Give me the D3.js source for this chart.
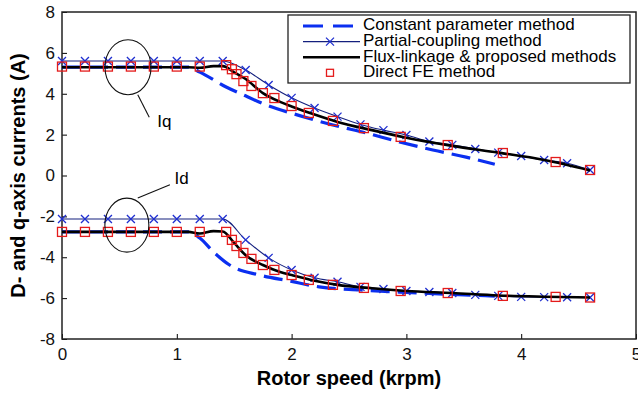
<!DOCTYPE html>
<html>
<head>
<meta charset="utf-8">
<script src="https://cdn.jsdelivr.net/npm/d3@7"></script>
<style>
  html, body { margin: 0; padding: 0; background: #fff; }
  svg { display: block; font-family: Arial, 'Liberation Sans', sans-serif; }
</style>
</head>
<body>
<div id="chart"></div>
<script>
// Axis ticks
const xTicks = [0, 1, 2, 3, 4, 5]
const yTicks = [-8, -6, -4, -2, 0, 2, 4, 6, 8]

// Partial-coupling method (crosses)
const crossX = [0, 0.2, 0.4, 0.6, 0.8, 1.0, 1.2, 1.4, 1.6, 1.8, 2.0, 2.2, 2.4, 2.6, 2.8, 3.0, 3.2, 3.4, 3.6, 3.8, 4.0, 4.2, 4.4, 4.6]
const iqCross = [5.6, 5.6, 5.6, 5.6, 5.6, 5.6, 5.6, 5.6, 5.16, 4.43, 3.8, 3.3, 2.88, 2.5, 2.22, 1.98, 1.66, 1.5, 1.3, 1.12, 0.95, 0.76, 0.6, 0.27]
const idCross = [-2.13, -2.13, -2.13, -2.13, -2.13, -2.13, -2.13, -2.13, -3.15, -4.03, -4.62, -5.0, -5.2, -5.45, -5.55, -5.65, -5.7, -5.75, -5.84, -5.89, -5.94, -5.95, -5.96, -5.97]

// Direct FE method (squares)
const squareX = [0, 0.2, 0.4, 0.6, 0.8, 1.0, 1.2, 1.43, 1.48, 1.52, 1.58, 1.65, 1.75, 1.85, 2.0, 2.15, 2.36, 2.63, 2.95, 3.36, 3.84, 4.3, 4.6]
const iqSquare = [5.33, 5.33, 5.33, 5.33, 5.33, 5.33, 5.33, 5.4, 5.2, 4.96, 4.62, 4.38, 4.03, 3.79, 3.4, 3.06, 2.67, 2.32, 1.89, 1.49, 1.1, 0.66, 0.27]
const idSquare = [-2.76, -2.76, -2.76, -2.76, -2.76, -2.76, -2.76, -2.76, -3.15, -3.45, -3.79, -4.08, -4.38, -4.62, -4.87, -5.11, -5.35, -5.5, -5.65, -5.75, -5.89, -5.94, -5.97]

// Flux-linkage & proposed methods (solid black)
const fluxX = [0, 1.1, 1.2, 1.32, 1.4, 1.5, 1.6, 1.75, 1.9, 2.0, 2.2, 2.4, 2.7, 3.0, 3.4, 3.8, 4.2, 4.6]
const iqFlux = [5.3, 5.3, 5.27, 5.35, 5.35, 5.05, 4.72, 4.03, 3.6, 3.38, 2.98, 2.62, 2.22, 1.85, 1.45, 1.12, 0.76, 0.25]
const idFlux = [-2.76, -2.76, -2.84, -2.72, -2.74, -3.3, -3.9, -4.38, -4.72, -4.87, -5.15, -5.35, -5.52, -5.65, -5.75, -5.87, -5.93, -5.97]

// Constant parameter method (dashed blue)
const iqConstX = [0, 1.1, 1.2, 1.43, 1.58, 1.78, 2.07, 2.36, 2.65, 2.94, 3.23, 3.52, 3.77]
const iqConst = [5.3, 5.3, 5.06, 4.33, 3.94, 3.45, 2.93, 2.47, 2.08, 1.64, 1.25, 0.9, 0.55]
const idConstX = [0, 1.1, 1.2, 1.32, 1.46, 1.72, 1.98, 2.24, 2.6, 3.0, 3.4, 3.77]
const idConst = [-2.76, -2.76, -3.06, -3.74, -4.38, -4.87, -5.16, -5.45, -5.6, -5.72, -5.82, -5.9]

const legendLabels = ['Constant parameter method', 'Partial-coupling method', 'Flux-linkage & proposed methods', 'Direct FE method']

const config = {
  width: 638,
  height: 393,
  marginLeft: 62,
  plotRight: 636,
  marginTop: 12,
  plotBottom: 339,
  colors: {
    dashed: '#0b2ff0',
    cross: '#1f2fd0',
    crossLine: '#14207e',
    flux: '#000',
    square: '#e41b1b',
    axis: '#222'
  }
}

const { width, height, marginLeft, plotRight, marginTop, plotBottom, colors } = config

const svg = d3.select('#chart')
  .append('svg')
  .attr('width', width)
  .attr('height', height)

const x = d3.scaleLinear().domain([0, 5]).range([marginLeft, plotRight])
const y = d3.scaleLinear().domain([-8, 8]).range([plotBottom, marginTop])

const zip = (xs, ys) => xs.map((v, i) => [v, ys[i]])

const line = d3.line()
  .x(d => x(d[0]))
  .y(d => y(d[1]))
  .curve(d3.curveMonotoneX)

// Axes (ticks point inwards)
svg.append('g')
  .attr('transform', `translate(0,${plotBottom})`)
  .call(d3.axisBottom(x).tickValues(xTicks).tickSize(-5).tickPadding(9).tickFormat(d => String(d)))
  .call(g => g.select('.domain').remove())
  .selectAll('text')
  .attr('font-size', '17px')
  .attr('font-family', 'Arial, Liberation Sans, sans-serif')
  .attr('fill', '#111')

svg.append('g')
  .attr('transform', `translate(${marginLeft},0)`)
  .call(d3.axisLeft(y).tickValues(yTicks).tickSize(-5).tickPadding(7).tickFormat(d => String(d)))
  .call(g => g.select('.domain').remove())
  .selectAll('text')
  .attr('font-size', '17px')
  .attr('font-family', 'Arial, Liberation Sans, sans-serif')
  .attr('fill', '#111')

// Frame
svg.append('rect')
  .attr('x', marginLeft)
  .attr('y', marginTop)
  .attr('width', plotRight - marginLeft)
  .attr('height', plotBottom - marginTop)
  .attr('fill', 'none')
  .attr('stroke', colors.axis)
  .attr('stroke-width', 1.5)

// Axis titles
svg.append('text')
  .attr('x', (marginLeft + plotRight) / 2)
  .attr('y', 385)
  .attr('text-anchor', 'middle')
  .attr('font-size', '20px')
  .attr('font-weight', 'bold')
  .text('Rotor speed (krpm)')

svg.append('text')
  .attr('transform', `translate(25,${(marginTop + plotBottom) / 2}) rotate(-90)`)
  .attr('text-anchor', 'middle')
  .attr('font-size', '20px')
  .attr('font-weight', 'bold')
  .text('D- and q-axis currents (A)')

// Series drawing
function drawSeries(cx, iq, id, fx, fIq, fId, sx, sIq, sId, iqCx, iqC, idCx, idC) {
  // Constant parameter (dashed)
  ;[zip(iqCx, iqC), zip(idCx, idC)].forEach(pts => {
    svg.append('path')
      .datum(pts)
      .attr('fill', 'none')
      .attr('stroke', colors.dashed)
      .attr('stroke-width', 3.2)
      .attr('stroke-dasharray', '19,8')
      .attr('d', line)
  })

  // Partial-coupling line + crosses
  ;[zip(cx, iq), zip(cx, id)].forEach(pts => {
    svg.append('path')
      .datum(pts)
      .attr('fill', 'none')
      .attr('stroke', colors.crossLine)
      .attr('stroke-width', 1.1)
      .attr('d', line)
    svg.append('g')
      .selectAll('path')
      .data(pts)
      .join('path')
      .attr('transform', d => `translate(${x(d[0])},${y(d[1])})`)
      .attr('d', 'M-4,-4L4,4M-4,4L4,-4')
      .attr('stroke', colors.cross)
      .attr('stroke-width', 1.3)
  })

  // Flux-linkage (solid black)
  ;[zip(fx, fIq), zip(fx, fId)].forEach(pts => {
    svg.append('path')
      .datum(pts)
      .attr('fill', 'none')
      .attr('stroke', colors.flux)
      .attr('stroke-width', 2.6)
      .attr('d', line)
  })

  // Direct FE (squares)
  ;[zip(sx, sIq), zip(sx, sId)].forEach(pts => {
    svg.append('g')
      .selectAll('rect')
      .data(pts)
      .join('rect')
      .attr('x', d => x(d[0]) - 4.5)
      .attr('y', d => y(d[1]) - 4.5)
      .attr('width', 9)
      .attr('height', 9)
      .attr('fill', 'none')
      .attr('stroke', colors.square)
      .attr('stroke-width', 1.3)
  })
}

drawSeries(crossX, iqCross, idCross, fluxX, iqFlux, idFlux, squareX, iqSquare, idSquare, iqConstX, iqConst, idConstX, idConst)

// Annotations: ellipses and leader lines
const notes = [
  { label: 'Iq', cx: 0.575, cy: 5.3, rx: 23, ry: 27.5, from: [0.66, 3.95], to: [0.76, 2.85], text: [0.83, 2.6] },
  { label: 'Id', cx: 0.565, cy: -2.43, rx: 22, ry: 27, from: [0.66, -1.1], to: [0.94, -0.45], text: [0.98, -0.2] }
]

notes.forEach(n => {
  svg.append('ellipse')
    .attr('cx', x(n.cx))
    .attr('cy', y(n.cy))
    .attr('rx', n.rx)
    .attr('ry', n.ry)
    .attr('fill', 'none')
    .attr('stroke', '#111')
    .attr('stroke-width', 1.1)
  svg.append('line')
    .attr('x1', x(n.from[0]))
    .attr('y1', y(n.from[1]))
    .attr('x2', x(n.to[0]))
    .attr('y2', y(n.to[1]))
    .attr('stroke', '#111')
    .attr('stroke-width', 1.1)
  svg.append('text')
    .attr('x', x(n.text[0]))
    .attr('y', y(n.text[1]))
    .attr('font-size', '17px')
    .attr('dominant-baseline', 'middle')
    .text(n.label)
})

// Legend
const legend = svg.append('g')
legend.append('rect')
  .attr('x', 288)
  .attr('y', 15)
  .attr('width', 342)
  .attr('height', 68)
  .attr('fill', '#fff')
  .attr('stroke', colors.axis)
  .attr('stroke-width', 1.3)

const rowY = i => 26 + i * 15.6

legendLabels.forEach((label, i) => {
  const ly = rowY(i)
  if (i === 0) {
    legend.append('line')
      .attr('x1', 303).attr('x2', 353).attr('y1', ly).attr('y2', ly)
      .attr('stroke', colors.dashed).attr('stroke-width', 3.2)
      .attr('stroke-dasharray', '20,10')
  } else if (i === 1) {
    legend.append('line')
      .attr('x1', 303).attr('x2', 360).attr('y1', ly).attr('y2', ly)
      .attr('stroke', colors.crossLine).attr('stroke-width', 1.1)
    legend.append('path')
      .attr('transform', `translate(330,${ly})`)
      .attr('d', 'M-4,-4L4,4M-4,4L4,-4')
      .attr('stroke', colors.cross).attr('stroke-width', 1.3)
  } else if (i === 2) {
    legend.append('line')
      .attr('x1', 303).attr('x2', 360).attr('y1', ly).attr('y2', ly)
      .attr('stroke', colors.flux).attr('stroke-width', 2.6)
  } else {
    legend.append('rect')
      .attr('x', 326.5).attr('y', ly - 3.5).attr('width', 7).attr('height', 7)
      .attr('fill', 'none').attr('stroke', colors.square).attr('stroke-width', 1.3)
  }
  legend.append('text')
    .attr('x', 363)
    .attr('y', ly)
    .attr('dominant-baseline', 'middle')
    .attr('font-size', '17px')
    .text(label)
})
</script>
</body>
</html>
